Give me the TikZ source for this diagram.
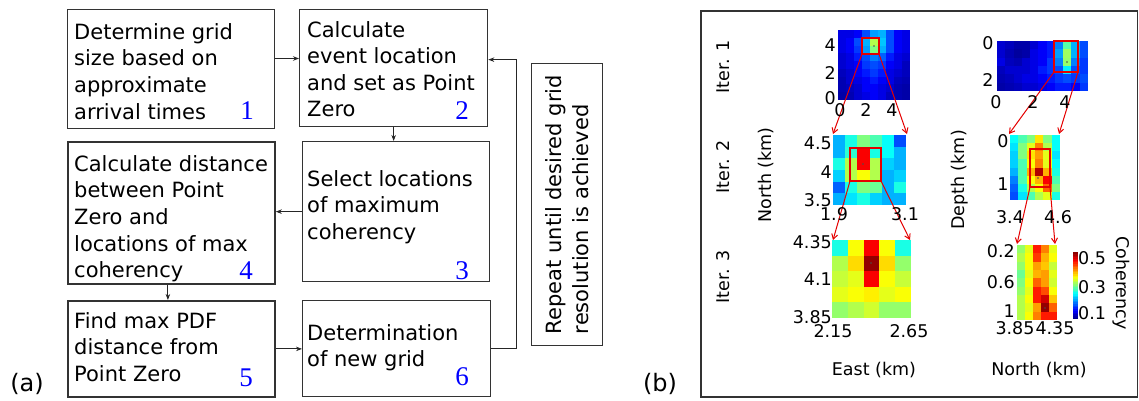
\documentclass[tikz,border=0pt]{standalone}
\usepackage{fontspec}
\setmainfont{DejaVu Sans}
\newfontfamily\numfont{Liberation Serif}
\usetikzlibrary{arrows.meta}
\newcommand\fl{\rule{0pt}{17pt}}
% heat map: x0, y0, cell width, cell height, rows
\newcommand\hmap[5]{%
  \foreach \hrow [count=\hi from 0] in {#5}{%
    \foreach \hv [count=\hj from 0] in \hrow {%
      \pgfmathsetmacro\hR{min(1,max(0,1.5-abs(4*\hv-3)))}%
      \pgfmathsetmacro\hG{min(1,max(0,1.5-abs(4*\hv-2)))}%
      \pgfmathsetmacro\hB{min(1,max(0,1.5-abs(4*\hv-1)))}%
      \definecolor{hc}{rgb}{\hR,\hG,\hB}%
      \fill[hc] ({#1+\hj*#3},{#2+\hi*#4}) rectangle +({#3+0.3},{#4+0.3});
    }%
  }%
}
\begin{document}
\begin{tikzpicture}[x=1pt,y=-1pt,
  flowbox/.style={draw=black!80, line width=#1, inner sep=0pt, anchor=north west},
  flowbox/.default=1.3pt,
  ftxt/.style={font=\fontsize{21}{26.6}\selectfont, align=left, inner sep=0pt, anchor=north west},
  fnum/.style={font=\numfont\fontsize{27}{30}\selectfont, text=blue, inner sep=0pt, anchor=base},
  arr/.style={line width=0.9pt, draw=black!85, -{Stealth[length=6pt,width=4.5pt]}},
  lab/.style={font=\fontsize{17.5}{20}\selectfont, inner sep=0pt},
  redbox/.style={draw=red!90!black, line width=1.3pt},
  rarr/.style={draw=red!90!black, line width=1pt, -{Straight Barb[length=5pt,width=6pt]}},
  dot/.style={fill=black!70},
]
\fill[white] (0,0) rectangle (1139,401);
\useasboundingbox (0,0) rectangle (1139,401);

% ---------------- panel (a) ----------------
\node[flowbox=1pt, minimum width=207pt, minimum height=119pt] (b1) at (67,9) {};
\node[flowbox, minimum width=188pt, minimum height=117pt] (b2) at (299,9) {};
\node[flowbox, minimum width=187pt, minimum height=140pt] (b3) at (302,141) {};
\node[flowbox=1.8pt, minimum width=207pt, minimum height=142pt] (b4) at (67,141) {};
\node[flowbox=1.8pt, minimum width=207pt, minimum height=96pt] (b5) at (67,300) {};
\node[flowbox, minimum width=188pt, minimum height=96pt] (b6) at (302,300) {};
\node[flowbox, minimum width=71pt, minimum height=282pt] (rep) at (531,63) {};

\node[ftxt] (t1) at (74,22) {\fl Determine grid\\size based on\\approximate\\arrival times};
\node[ftxt] (t2) at (307,20) {\fl Calculate\\event location\\and set as Point\\Zero};
\node[ftxt] (t3) at (307,169) {\fl Select locations\\of maximum\\coherency};
\node[ftxt] (t4) at (74,154) {\fl Calculate distance\\between Point\\Zero and\\locations of max\\coherency};
\node[ftxt] (t5) at (74,311) {\fl Find max PDF\\distance from\\Point Zero};
\node[ftxt] (t6) at (307,323) {\fl Determination\\of new grid};
\node[font=\fontsize{21}{26.6}\selectfont, align=left, inner sep=0pt, rotate=90] (trep) at (rep.center) {Repeat until desired grid\\resolution is achieved};

\node[fnum] (n1) at (247,120) {1};
\node[fnum] (n2) at (462,120) {2};
\node[fnum] (n3) at (462,279) {3};
\node[fnum] (n4) at (246,279) {4};
\node[fnum] (n5) at (246,386) {5};
\node[fnum] (n6) at (462,385) {6};

\draw[arr] ([yshift=10.5pt]b1.east) -- ([yshift=10.5pt]b1.east -| b2.west);
\draw[arr] (b2.south) -- (b2.south |- b3.north);
\draw[arr] (b3.west) -- (b3.west -| b4.east);
\draw[arr] ([xshift=-3.5pt]b4.south) -- ([xshift=-3.5pt]b4.south |- b5.north);
\draw[arr] (b5.east) -- (b5.east -| b6.west);
\coordinate (loopx) at (516,0);
\coordinate (b2in) at ([yshift=8.5pt]b2.east);
\draw[arr] (b6.east) -- (b6.east -| loopx) -- (loopx |- b2in) -- (b2in);

\node[font=\fontsize{24}{28}\selectfont, inner sep=0pt] (la) at (27,384) {(a)};

% ---------------- panel (b) ----------------
\draw[draw=black!80, line width=1.3pt] (701,11) rectangle (1137.5,397);
\node[font=\fontsize{24}{28}\selectfont, inner sep=0pt] (lb) at (660,384) {(b)};

% Iter 1, East-North
\hmap{838}{30}{8}{7.78}{
 {.1,.1,.12,.2,.28,.3,.2,.12,.1},
 {.1,.12,.2,.3,.55,.32,.2,.12,.1},
 {.1,.12,.18,.28,.5,.3,.2,.12,.1},
 {.08,.1,.15,.2,.25,.22,.15,.1,.08},
 {.08,.1,.12,.18,.2,.18,.12,.1,.06},
 {.06,.08,.12,.15,.18,.15,.1,.08,.06},
 {.05,.08,.1,.12,.15,.12,.1,.06,.05},
 {.05,.06,.08,.12,.12,.1,.08,.05,.04},
 {.04,.05,.08,.1,.12,.1,.06,.05,.04}}
% Iter 1, North-Depth
\hmap{997}{41}{8.27}{8.33}{
 {.08,.06,.04,.04,.08,.12,.15,.25,.46,.3,.2},
 {.08,.05,.03,.04,.1,.12,.15,.28,.53,.3,.2},
 {.1,.06,.05,.08,.1,.12,.18,.25,.52,.25,.18},
 {.06,.08,.08,.08,.1,.15,.18,.2,.36,.2,.18},
 {.05,.06,.08,.1,.1,.12,.15,.18,.2,.18,.2},
 {.04,.05,.06,.08,.08,.1,.12,.15,.15,.12,.18}}
% Iter 2, East-North
\hmap{833}{135}{12.17}{11.67}{
 {.3,.4,.5,.45,.38,.2},
 {.3,.42,.88,.4,.38,.3},
 {.4,.55,.88,.55,.33,.3},
 {.33,.55,.62,.55,.3,.33},
 {.22,.4,.5,.48,.3,.4},
 {.3,.35,.4,.33,.3,.3}}
% Iter 2, North-Depth
\hmap{1010}{135}{8.33}{8.125}{
 {.38,.45,.5,.65,.5,.38},
 {.35,.5,.6,.75,.55,.38},
 {.33,.5,.65,.72,.6,.35},
 {.33,.45,.62,.75,.6,.38},
 {.3,.45,.7,.95,.7,.4},
 {.25,.45,.62,.7,.88,.45},
 {.22,.4,.55,.62,.78,.5},
 {.2,.35,.45,.55,.6,.4}}
% Iter 3, East-North
\hmap{832}{240}{15.8}{15.6}{
 {.4,.62,.88,.62,.4},
 {.55,.66,.98,.66,.52},
 {.57,.6,.88,.62,.57},
 {.6,.62,.64,.6,.62},
 {.52,.55,.58,.52,.52}}
% Iter 3, North-Depth
\hmap{1017}{245}{8}{8.33}{
 {.52,.6,.85,.75,.6},
 {.55,.62,.82,.7,.62},
 {.52,.62,.72,.68,.57},
 {.48,.6,.7,.72,.6},
 {.5,.62,.78,.72,.58},
 {.52,.6,.85,.8,.62},
 {.55,.62,.85,.92,.68},
 {.55,.6,.72,.98,.78},
 {.55,.62,.75,.85,.85}}

% colour bar
\foreach \k in {0,...,39}{
  \pgfmathsetmacro\hv{(\k+0.5)/40}
  \pgfmathsetmacro\hR{min(1,max(0,1.5-abs(4*\hv-3)))}
  \pgfmathsetmacro\hG{min(1,max(0,1.5-abs(4*\hv-2)))}
  \pgfmathsetmacro\hB{min(1,max(0,1.5-abs(4*\hv-1)))}
  \definecolor{hc}{rgb}{\hR,\hG,\hB}
  \fill[hc] (1073,{319-(\k+1)*67/40}) rectangle (1078,{319-\k*67/40+0.2});
}

% maxima
\fill[dot] (874,46) circle (0.9pt);
\fill[dot] (1067,62) circle (0.9pt);
\fill[dot] (863,164) circle (0.9pt);
\fill[dot] (1038,178) circle (0.9pt);
\fill[dot] (871,263) circle (0.9pt);
\fill[dot] (1045,308) circle (0.9pt);

% zoom boxes and arrows
\draw[redbox] (862,38) rectangle (879,54);
\draw[redbox] (1054,41) rectangle (1078,72);
\draw[redbox] (850,148) rectangle (881,181);
\draw[redbox] (1030,149) rectangle (1050,187);
\coordinate (r1l) at (862,54); \coordinate (r1r) at (879,54);
\coordinate (d1l) at (1054,72); \coordinate (d1r) at (1078,72);
\coordinate (r2l) at (850,181); \coordinate (r2r) at (881,181);
\coordinate (d2l) at (1030,187); \coordinate (d2r) at (1050,187);
\coordinate (h2l) at (833,134); \coordinate (h2r) at (907,134);
\coordinate (g2l) at (1009,134); \coordinate (g2r) at (1059,134);
\coordinate (h3l) at (833,240); \coordinate (h3r) at (910,240);
\coordinate (g3l) at (1017,244); \coordinate (g3r) at (1055,244);
\draw[rarr] (r1l) -- (h2l);
\draw[rarr] (r1r) -- (h2r);
\draw[rarr] (d1l) -- (g2l);
\draw[rarr] (d1r) -- (g2r);
\draw[rarr] (r2l) -- (h3l);
\draw[rarr] (r2r) -- (h3r);
\draw[rarr] (d2l) -- (g3l);
\draw[rarr] (d2r) -- (g3r);

% tick labels
\node[lab, anchor=east] (y14) at (836,45) {4};
\node[lab, anchor=east] (y12) at (836,73) {2};
\node[lab, anchor=east] (y10) at (836,98) {0};
\node[lab] (x10) at (840,110) {0};
\node[lab] (x12) at (866,110) {2};
\node[lab] (x14) at (892,110) {4};
\node[lab] (z10) at (988,43) {0};
\node[lab] (z12) at (988,80) {2};
\node[lab] (w10) at (996,102) {0};
\node[lab] (w12) at (1033,102) {2};
\node[lab] (w14) at (1065,102) {4};
\node[lab, anchor=east] (y245) at (832,143) {4.5};
\node[lab, anchor=east] (y24) at (832,172) {4};
\node[lab, anchor=east] (y235) at (832,200) {3.5};
\node[lab] (x219) at (834,214) {1.9};
\node[lab] (x231) at (905,214) {3.1};
\node[lab] (z20) at (1003,141) {0};
\node[lab] (z21) at (1003,184) {1};
\node[lab] (w234) at (1010,217) {3.4};
\node[lab] (w246) at (1058,217) {4.6};
\node[lab, anchor=east] (y3435) at (832,242) {4.35};
\node[lab, anchor=east] (y341) at (832,279) {4.1};
\node[lab, anchor=east] (y3385) at (832,317) {3.85};
\node[lab] (x3215) at (833,331) {2.15};
\node[lab] (x3265) at (909,331) {2.65};
\node[lab, anchor=east] (z302) at (1015,251) {0.2};
\node[lab, anchor=east] (z306) at (1015,282) {0.6};
\node[lab, anchor=east] (z31) at (1015,311) {1};
\node[lab] (w3385) at (1015,328) {3.85};
\node[lab] (w3435) at (1055,328) {4.35};
\node[lab, anchor=west] (c5) at (1078,258) {0.5};
\node[lab, anchor=west] (c3) at (1078,287) {0.3};
\node[lab, anchor=west] (c1) at (1078,313) {0.1};
\node[lab, rotate=-90] (coh) at (1121,283) {Coherency};

% axis labels
\node[lab, rotate=90] (ynorth) at (766,175) {North (km)};
\node[lab, rotate=90] (ydepth) at (960,180) {Depth (km)};
\node[lab] (xeast) at (874,370) {East (km)};
\node[lab] (xnorth) at (1039,370) {North (km)};
\node[lab, rotate=90] (it1) at (723,67) {Iter. 1};
\node[lab, rotate=90] (it2) at (723,167) {Iter. 2};
\node[lab, rotate=90] (it3) at (723,277) {Iter. 3};
\end{tikzpicture}
\end{document}
